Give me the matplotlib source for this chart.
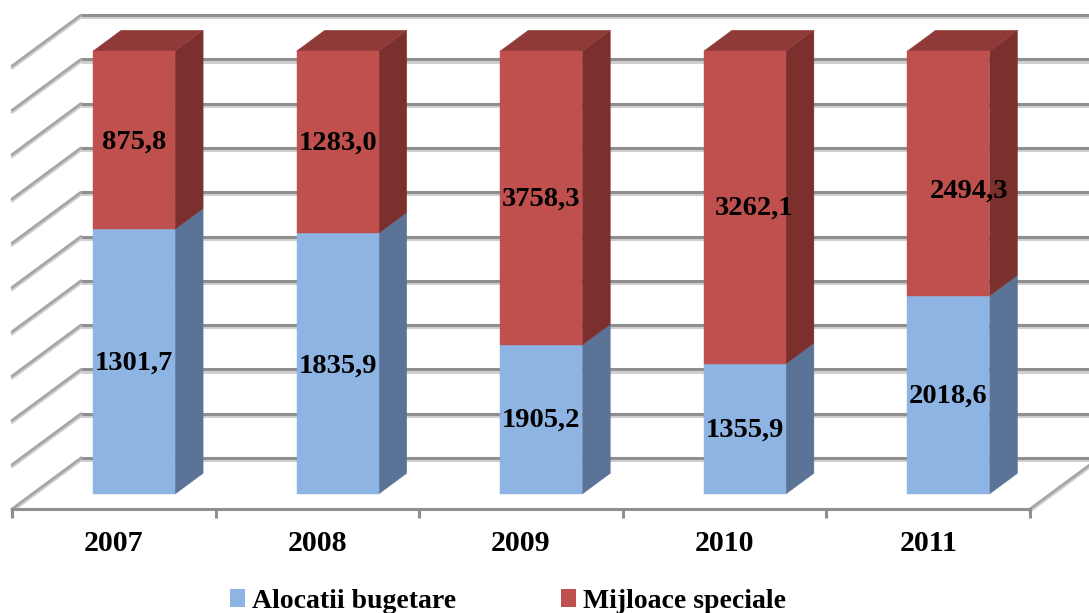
import numpy as np
import matplotlib
matplotlib.use("Agg")
import matplotlib.pyplot as plt
from matplotlib.patches import Polygon, Patch
import matplotlib.patheffects as pe

years = ["2007", "2008", "2009", "2010", "2011"]
alocatii = [1301.7, 1835.9, 1905.2, 1355.9, 2018.6]
mijloace = [875.8, 1283.0, 3758.3, 3262.1, 2494.3]
alocatii_labels = ["1301,7", "1835,9", "1905,2", "1355,9", "2018,6"]
mijloace_labels = ["875,8", "1283,0", "3758,3", "3262,1", "2494,3"]
series_names = ["Alocatii bugetare", "Mijloace speciale"]

# hand-placed label anchors of the original (category units / share of axis)
low_label_x = [0.60, 0.60, 0.60, 0.60, 0.60]
low_label_y = [0.330, 0.323, 0.201, 0.179, 0.255]
high_label_x = [0.60, 0.60, 0.60, 0.644, 0.70]
high_label_y = [0.829, 0.826, 0.700, 0.680, 0.718]

W, H = 1089, 613
SERIF = "Liberation Serif"
fig = plt.figure(figsize=(W / 100, H / 100), dpi=100, facecolor="white")
# front wall: x 12..1030 px, y 509..66 px
ax = fig.add_axes([12 / W, 1 - 509 / H, (1030 - 12) / W, (509 - 66) / H])
ax.set_xlim(0, 5)
ax.set_ylim(0, 1)
ax.patch.set_alpha(0)

DX = 69 / (1018 / 5)   # full floor depth in category units
DY = 51 / 443          # full floor depth in axis share units


def proj(x, y, z):
    return x + z * DX, y + z * DY


GRID = "#8f8f8f"
shadow = [pe.SimpleLineShadow(offset=(0, -1.6), shadow_color="#cfcfcf", alpha=1.0), pe.Normal()]
for level in np.arange(0, 11) / 10:
    x0, y0 = proj(0, level, 1)
    x1, y1 = proj(5, level, 1)
    ax.plot([x0, x1], [y0, y1], color=GRID, lw=2.2, clip_on=False, zorder=1,
            solid_capstyle="butt", path_effects=shadow)
    if level > 0:
        xa, ya = proj(0, level, 0)
        ax.plot([xa, x0], [ya, y0], color="#a6a6a6", lw=2.0, clip_on=False, zorder=1,
                solid_capstyle="round", path_effects=shadow)
for x_wall in (0, 5):
    xa, ya = proj(x_wall, 0, 0)
    xb, yb = proj(x_wall, 0, 1)
    ax.plot([xa, xb], [ya, yb], color="#a6a6a6", lw=2.0, clip_on=False, zorder=1, path_effects=shadow)

Z0, Z1 = 0.294, 0.70
HALF = 0.2014
C_BLUE, C_BLUE_SIDE = "#8eb4e3", "#5a7396"
C_RED, C_RED_SIDE, C_RED_TOP = "#c0504d", "#7b302e", "#8f3a38"


def add_poly(pts, color, z=3):
    ax.add_patch(Polygon(pts, closed=True, facecolor=color, edgecolor=color, lw=0.3,
                         clip_on=False, zorder=z))


for i in range(len(years)):
    total = alocatii[i] + mijloace[i]
    share = alocatii[i] / total
    left, right = i + 0.5 - HALF, i + 0.5 + HALF
    segments = [(0.0, share, C_BLUE, C_BLUE_SIDE), (share, 1.0, C_RED, C_RED_SIDE)]
    for lo, hi, front, side in segments:
        add_poly([proj(right, lo, Z0), proj(right, lo, Z1), proj(right, hi, Z1), proj(right, hi, Z0)], side)
        add_poly([proj(left, lo, Z0), proj(right, lo, Z0), proj(right, hi, Z0), proj(left, hi, Z0)], front, 4)
    add_poly([proj(left, 1, Z0), proj(right, 1, Z0), proj(right, 1, Z1), proj(left, 1, Z1)], C_RED_TOP)

    ax.text(i + low_label_x[i], low_label_y[i], alocatii_labels[i], family=SERIF, weight="bold",
            fontsize=20.5, ha="center", va="center", color="black", zorder=6, clip_on=False)
    ax.text(i + high_label_x[i], high_label_y[i], mijloace_labels[i], family=SERIF, weight="bold",
            fontsize=20.5, ha="center", va="center", color="black", zorder=6, clip_on=False)

for name in ("top", "left", "right"):
    ax.spines[name].set_visible(False)
ax.spines["bottom"].set_color(GRID)
ax.spines["bottom"].set_linewidth(2.2)
ax.spines["bottom"].set_zorder(2)
ax.set_yticks([])
ax.set_xticks(np.arange(len(years)) + 0.5)
ax.set_xticklabels(years, family=SERIF, weight="bold", fontsize=21.5, color="black")
ax.tick_params(axis="x", which="major", length=0, pad=15)
ax.set_xticks(np.arange(len(years) + 1), minor=True)
ax.tick_params(axis="x", which="minor", length=6.5, width=2.2, color=GRID)

handles = [Patch(facecolor=C_BLUE, edgecolor="none"), Patch(facecolor=C_RED, edgecolor="none")]
fig.legend(handles, series_names, ncol=2, frameon=False, loc="lower left",
           bbox_to_anchor=(222 / W, -9 / H), prop={"family": SERIF, "weight": "bold", "size": 20},
           handlelength=0.54, handleheight=0.6, handletextpad=0.25, columnspacing=3.75,
           borderpad=0.3, borderaxespad=0)

fig.savefig("out.png", dpi=100)
